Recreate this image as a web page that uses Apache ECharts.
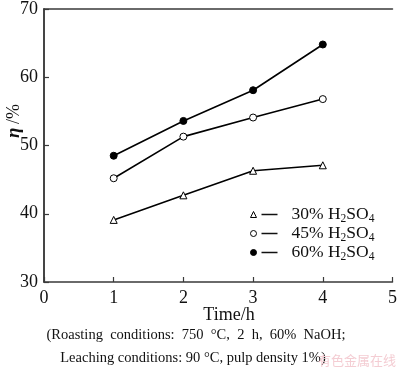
<!DOCTYPE html>
<html>
<head>
<meta charset="utf-8">
<script src="https://cdn.jsdelivr.net/npm/echarts@6/dist/echarts.min.js"></script>
<style>html,body{margin:0;padding:0;background:#fff;}#c{width:400px;height:369px;}</style>
</head>
<body>
<div id="c"></div>
<script>
const xValues = [1, 2, 3, 4];
const s30 = [39.1, 42.7, 46.3, 47.1];
const s45 = [45.2, 51.3, 54.1, 56.8];
const s60 = [48.5, 53.6, 58.1, 64.8];
const seriesNames = ['30% H2SO4', '45% H2SO4', '60% H2SO4'];
const legendLabels = {
  '30% H2SO4': '{ln|}{sp|}{t|30% H}{s|2}{t|SO}{s|4}',
  '45% H2SO4': '{ln|}{sp|}{t|45% H}{s|2}{t|SO}{s|4}',
  '60% H2SO4': '{ln|}{sp|}{t|60% H}{s|2}{t|SO}{s|4}'
};
const caption1 = '(Roasting  conditions:  750  °C,  2  h,  60%  NaOH;';
const caption2 = 'Leaching conditions: 90 °C, pulp density 1%)';

const SERIF = '"Liberation Serif", "Times New Roman", serif';
const AX = '#3a3a3a';
function pts(arr){ return xValues.map((x,i)=>[x, arr[i]]); }

const chart = echarts.init(document.getElementById('c'), null, {renderer:'canvas'});
const lineStyle = {color:'#000', width:1.6};
chart.setOption({
  animation:false,
  grid:{left:44, right:5, top:6, bottom:87, containLabel:false},
  xAxis:[{
    type:'value', min:0, max:5, interval:1, position:'bottom',
    axisLine:{show:true, lineStyle:{color:AX, width:1.5}},
    axisTick:{show:true, inside:true, length:5, lineStyle:{color:AX, width:1.2}},
    axisLabel:{fontFamily:SERIF, fontSize:18, color:'#111', margin:7},
    splitLine:{show:false}
  },{
    type:'value', min:0, max:5, interval:1, position:'top',
    axisLine:{show:true, lineStyle:{color:AX, width:1.5}},
    axisTick:{show:false}, axisLabel:{show:false}, splitLine:{show:false}
  }],
  yAxis:[{
    type:'value', min:30, max:70, interval:10, position:'left',
    axisLine:{show:true, lineStyle:{color:AX, width:1.5}},
    axisTick:{show:true, inside:true, length:5, lineStyle:{color:AX, width:1.2}},
    axisLabel:{fontFamily:SERIF, fontSize:18, color:'#111', margin:6},
    splitLine:{show:false}
  },{
    type:'value', min:30, max:70, interval:10, position:'right',
    axisLine:{show:true, lineStyle:{color:AX, width:1.5}},
    axisTick:{show:false}, axisLabel:{show:false}, splitLine:{show:false}
  }],
  legend:{
    orient:'vertical', left:250, top:204, itemGap:-2, padding:0,
    itemWidth:6, itemHeight:6,
    data:[
      {name:seriesNames[0], icon:'triangle', itemStyle:{color:'#fff', borderColor:'#000', borderWidth:1}},
      {name:seriesNames[1], icon:'circle', itemStyle:{color:'#fff', borderColor:'#000', borderWidth:1}},
      {name:seriesNames[2], icon:'circle', itemStyle:{color:'#000', borderColor:'#000', borderWidth:1}}
    ],
    formatter:function(n){ return legendLabels[n]; },
    textStyle:{
      color:'#111',
      rich:{
        ln:{width:16, height:1.5, backgroundColor:'#111'},
        sp:{width:14},
        t:{fontFamily:SERIF, fontSize:17.5, color:'#111', lineHeight:18},
        s:{fontFamily:SERIF, fontSize:11.5, color:'#111', lineHeight:18, padding:[9,0,0,0]}
      }
    }
  },
  series:[
    {name:seriesNames[0], type:'line', data:pts(s30), symbol:'triangle', symbolSize:7,
     itemStyle:{color:'#fff', borderColor:'#000', borderWidth:1}, lineStyle:lineStyle},
    {name:seriesNames[1], type:'line', data:pts(s45), symbol:'circle', symbolSize:7,
     itemStyle:{color:'#fff', borderColor:'#000', borderWidth:1}, lineStyle:lineStyle},
    {name:seriesNames[2], type:'line', data:pts(s60), symbol:'circle', symbolSize:7,
     itemStyle:{color:'#000', borderColor:'#000', borderWidth:1}, lineStyle:lineStyle}
  ],
  graphic:[
    {type:'text', x:14, y:121, rotation:Math.PI/2, style:{
      text:'{e|η} {p|/%}', align:'center', verticalAlign:'middle',
      rich:{
        e:{fontFamily:SERIF, fontSize:19, fontStyle:'italic', fontWeight:'bold', fill:'#111'},
        p:{fontFamily:SERIF, fontSize:18, fill:'#111'}
      }}},
    {type:'text', x:229, y:315, style:{text:'Time/h', fontFamily:SERIF, fontSize:18, fill:'#111', align:'center', verticalAlign:'middle'}},
    {type:'text', x:196, y:335, style:{text:caption1, fontFamily:SERIF, fontSize:14.5, fill:'#111', align:'center', verticalAlign:'middle'}},
    {type:'text', x:193, y:358, style:{text:caption2, fontFamily:SERIF, fontSize:14.5, fill:'#111', align:'center', verticalAlign:'middle'}},
    {type:'text', x:396, y:360, style:{text:'有色金属在线', fontFamily:'"Noto Sans CJK SC", sans-serif', fontSize:13, fill:'#f4cdd3', align:'right', verticalAlign:'middle'}}
  ]
});
</script>
</body>
</html>
